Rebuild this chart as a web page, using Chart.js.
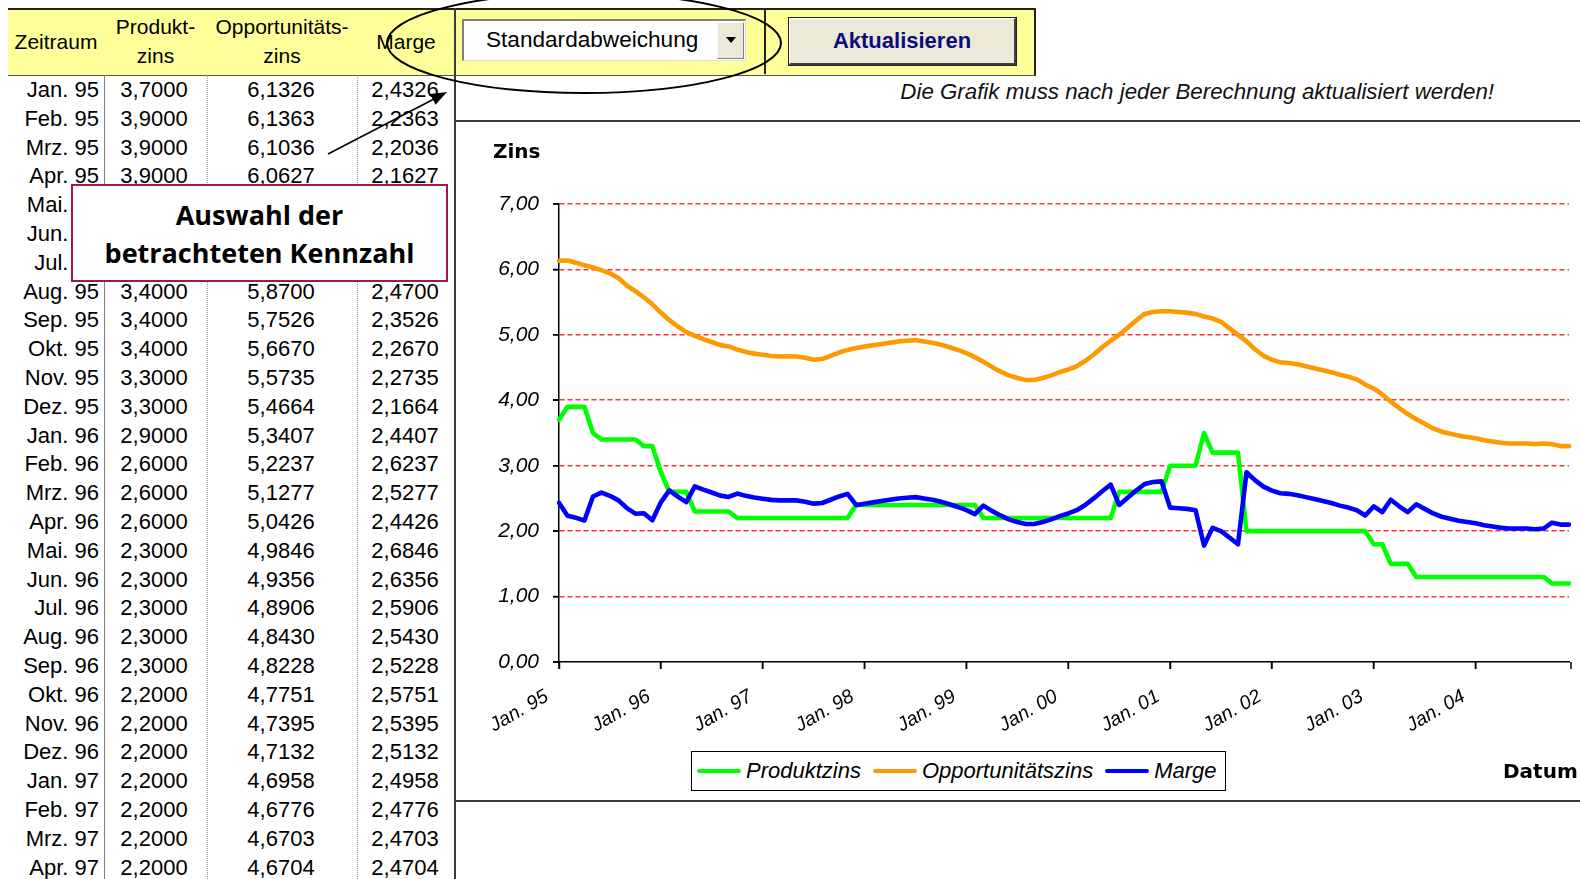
<!DOCTYPE html>
<html lang="de">
<head>
<meta charset="utf-8">
<title>Zinsentwicklung</title>
<script src="https://cdn.jsdelivr.net/npm/chart.js@4.4.1/dist/chart.umd.min.js"></script>
<style>
  body { margin: 0; width: 1580px; height: 879px; overflow: hidden; background: #fff;
         font-family: "Liberation Sans", Arial, sans-serif; color: #000; position: relative; }
  .abs { position: absolute; }
  #band { left: 8px; top: 8px; width: 1026px; height: 65px; background: #ffff99;
          border-top: 2px solid #222; border-right: 2px solid #222; border-bottom: 1px solid #555; }
  .hd { position: absolute; font-size: 21px; text-align: center; line-height: 29px; }
  .row { position: absolute; left: 0; width: 455px; height: 29px; line-height: 29px; font-size: 22px; }
  .row span { position: absolute; top: 0; }
  .vline { position: absolute; width: 0; }
  #combo { left: 462px; top: 19px; width: 284px; height: 42px; box-sizing: border-box; background: #fff;
           border-top: 2px solid #808080; border-left: 2px solid #808080; border-right: 1px solid #ddd; border-bottom: 1px solid #ddd; }
  #combo .txt { position: absolute; left: 22px; top: 0; line-height: 38px; font-size: 22.6px; }
  #combo .btn { position: absolute; right: 1px; top: 1px; width: 27px; height: 37px; box-sizing: border-box;
                background: #ece9d8; border-top: 1px solid #fff; border-left: 1px solid #fff;
                border-right: 1px solid #808080; border-bottom: 1px solid #808080; }
  #combo .btn::after { content: ""; position: absolute; left: 8px; top: 14px; border-left: 5px solid transparent;
                       border-right: 5px solid transparent; border-top: 6px solid #000; }
  #update { left: 789px; top: 18px; width: 227px; height: 47px; box-sizing: border-box; background: #ece9d8;
            border-top: 1px solid #fff; border-left: 1px solid #fff; border-right: 2px solid #404040; border-bottom: 2px solid #404040;
            outline: 1px solid #222; text-align: center; line-height: 44px; font-size: 22px; font-weight: bold; color: #0b0b80; }
  #note { right: 86px; top: 79px; font-size: 22.3px; font-style: italic; line-height: 26px; color: #111; }
  #frame { left: 454px; top: 120px; width: 1160px; height: 682px; box-sizing: border-box; border: 2px solid #3a3a3a; border-right: none; }
  #chartWrap { left: 456px; top: 122px; width: 1124px; height: 678px; }
  .axisTitle { position: absolute; font-family: "DejaVu Sans", sans-serif; font-weight: bold; font-size: 20px; line-height: 24px; }
  #legend { left: 691px; top: 751px; width: 535px; height: 40px; box-sizing: border-box; border: 1.5px solid #000;
            display: flex; align-items: center; padding-left: 5px; background: #fff; }
  #legend .item { display: flex; align-items: center; margin-right: 12px; }
  #legend .swatch { width: 44px; height: 4px; border-radius: 2px; margin-right: 5px; }
  #legend .lab { font-size: 22px; font-style: italic; }
  #callout { left: 71px; top: 184px; width: 377px; height: 98px; box-sizing: border-box; background: #fff;
             border: 2px solid #9e1a45; text-align: center; font-family: "Open Sans", sans-serif; font-weight: bold;
             font-size: 27px; line-height: 38px; padding-top: 10px; }
</style>
</head>
<body>

<div id="band" class="abs"></div>
<div class="hd" style="left:8px; top:27px; width:96px;">Zeitraum</div>
<div class="hd" style="left:104px; top:12px; width:103px;">Produkt-<br>zins</div>
<div class="hd" style="left:207px; top:12px; width:150px;">Opportunitäts-<br>zins</div>
<div class="hd" style="left:357px; top:27px; width:98px;">Marge</div>

<div id="rows"></div>

<div class="vline" style="left:104px; top:75px; height:804px; border-left:1px solid #808080;"></div>
<div class="vline" style="left:207px; top:75px; height:804px; border-left:1px dotted #9a9a9a;"></div>
<div class="vline" style="left:357px; top:75px; height:804px; border-left:1px dotted #9a9a9a;"></div>
<div class="vline" style="left:454px; top:8px; height:871px; border-left:2px solid #3a3a3a;"></div>
<div class="vline" style="left:764px; top:8px; height:66px; border-left:2px solid #222;"></div>

<div id="combo" class="abs"><span class="txt">Standardabweichung</span><span class="btn"></span></div>
<div id="update" class="abs">Aktualisieren</div>
<div id="note" class="abs">Die Grafik muss nach jeder Berechnung aktualisiert werden!</div>

<div id="frame" class="abs"></div>
<div id="chartWrap" class="abs"><canvas id="zinsChart" width="1124" height="678"></canvas></div>
<div class="axisTitle" style="left:493px; top:139px;">Zins</div>
<div class="axisTitle" style="left:1503px; top:759px;">Datum</div>
<div id="legend" class="abs"></div>

<div id="callout" class="abs">Auswahl der<br>betrachteten Kennzahl</div>

<svg class="abs" style="left:0; top:0; pointer-events:none;" width="1580" height="879">
  <ellipse cx="584" cy="43" rx="197" ry="50" fill="none" stroke="#000" stroke-width="2"/>
  <line x1="328" y1="154" x2="434" y2="99" stroke="#000" stroke-width="1.5"/>
  <polygon points="447,92 435.6,104.7 430,94.1" fill="#000"/>
</svg>

<script>
// Month / year axis
const monthNames = ['Jan.', 'Feb.', 'Mrz.', 'Apr.', 'Mai.', 'Jun.', 'Jul.', 'Aug.', 'Sep.', 'Okt.', 'Nov.', 'Dez.'];
const years = ['95', '96', '97', '98', '99', '00', '01', '02', '03', '04'];
const categories = years.flatMap(y => monthNames.map(m => m + ' ' + y));

// Produktzins (monthly, Jan. 95 - Dez. 04)
const produktzins = [
    3.70, 3.90, 3.90, 3.90, 3.50, 3.40, 3.40, 3.40, 3.40, 3.40, 3.30, 3.30,
    2.90, 2.60, 2.60, 2.60, 2.30, 2.30, 2.30, 2.30, 2.30, 2.20, 2.20, 2.20,
    2.20, 2.20, 2.20, 2.20, 2.20, 2.20, 2.20, 2.20, 2.20, 2.20, 2.20, 2.40,
    2.40, 2.40, 2.40, 2.40, 2.40, 2.40, 2.40, 2.40, 2.40, 2.40, 2.40, 2.40,
    2.40, 2.40, 2.20, 2.20, 2.20, 2.20, 2.20, 2.20, 2.20, 2.20, 2.20, 2.20,
    2.20, 2.20, 2.20, 2.20, 2.20, 2.20, 2.60, 2.60, 2.60, 2.60, 2.60, 2.60,
    3.00, 3.00, 3.00, 3.00, 3.50, 3.20, 3.20, 3.20, 3.20, 2.00, 2.00, 2.00,
    2.00, 2.00, 2.00, 2.00, 2.00, 2.00, 2.00, 2.00, 2.00, 2.00, 2.00, 2.00,
    1.80, 1.80, 1.50, 1.50, 1.50, 1.30, 1.30, 1.30, 1.30, 1.30, 1.30, 1.30,
    1.30, 1.30, 1.30, 1.30, 1.30, 1.30, 1.30, 1.30, 1.30, 1.20, 1.20, 1.20
];

// Opportunitätszins
const opportunitaetszins = [
    6.1326, 6.1363, 6.1036, 6.0627, 6.03, 5.99, 5.94, 5.8700, 5.7526, 5.6670, 5.5735, 5.4664,
    5.3407, 5.2237, 5.1277, 5.0426, 4.9846, 4.9356, 4.8906, 4.8430, 4.8228, 4.7751, 4.7395, 4.7132,
    4.6958, 4.6776, 4.6703, 4.6704, 4.67, 4.65, 4.62, 4.63, 4.68, 4.73, 4.77, 4.80,
    4.82, 4.84, 4.86, 4.88, 4.90, 4.91, 4.92, 4.90, 4.88, 4.85, 4.81, 4.77,
    4.72, 4.66, 4.59, 4.51, 4.44, 4.38, 4.34, 4.31, 4.31, 4.34, 4.38, 4.43,
    4.47, 4.52, 4.60, 4.70, 4.81, 4.91, 5.00, 5.11, 5.22, 5.32, 5.35, 5.36,
    5.36, 5.35, 5.34, 5.32, 5.28, 5.25, 5.20, 5.10, 5.00, 4.90, 4.78, 4.68,
    4.62, 4.58, 4.57, 4.55, 4.52, 4.49, 4.46, 4.43, 4.39, 4.36, 4.32, 4.24,
    4.18, 4.09, 3.98, 3.88, 3.79, 3.71, 3.64, 3.57, 3.52, 3.49, 3.46, 3.44,
    3.42, 3.39, 3.37, 3.35, 3.34, 3.34, 3.34, 3.33, 3.34, 3.33, 3.30, 3.30
];

// Marge
const marge = [
    2.4326, 2.2363, 2.2036, 2.1627, 2.53, 2.59, 2.54, 2.4700, 2.3526, 2.2670, 2.2735, 2.1664,
    2.4407, 2.6237, 2.5277, 2.4426, 2.6846, 2.6356, 2.5906, 2.5430, 2.5228, 2.5751, 2.5395, 2.5132,
    2.4958, 2.4776, 2.4703, 2.4704, 2.47, 2.45, 2.42, 2.43, 2.48, 2.53, 2.57, 2.40,
    2.42, 2.44, 2.46, 2.48, 2.50, 2.51, 2.52, 2.50, 2.48, 2.45, 2.41, 2.37,
    2.32, 2.26, 2.39, 2.31, 2.24, 2.18, 2.14, 2.11, 2.11, 2.14, 2.18, 2.23,
    2.27, 2.32, 2.40, 2.50, 2.61, 2.71, 2.40, 2.51, 2.62, 2.72, 2.75, 2.76,
    2.36, 2.35, 2.34, 2.32, 1.78, 2.05, 2.00, 1.90, 1.80, 2.90, 2.78, 2.68,
    2.62, 2.58, 2.57, 2.55, 2.52, 2.49, 2.46, 2.43, 2.39, 2.36, 2.32, 2.24,
    2.38, 2.29, 2.48, 2.38, 2.29, 2.41, 2.34, 2.27, 2.22, 2.19, 2.16, 2.14,
    2.12, 2.09, 2.07, 2.05, 2.04, 2.04, 2.04, 2.03, 2.04, 2.13, 2.10, 2.10
];

const visibleRows = 28;

function fmt(v) {
    return v.toFixed(4).replace('.', ',');
}

// Spreadsheet rows
const rowsEl = document.getElementById('rows');
for (let i = 0; i < visibleRows; i++) {
    const row = document.createElement('div');
    row.className = 'row';
    row.style.top = (75 + i * 28.8) + 'px';
    row.innerHTML =
        '<span style="left:0; width:99px; text-align:right;">' + categories[i] + '</span>' +
        '<span style="left:104px; width:100px; text-align:center;">' + fmt(produktzins[i]) + '</span>' +
        '<span style="left:207px; width:148px; text-align:center;">' + fmt(opportunitaetszins[i]) + '</span>' +
        '<span style="left:357px; width:96px; text-align:center;">' + fmt(marge[i]) + '</span>';
    rowsEl.appendChild(row);
}

// Excel style tick marks: yearly on the x axis, every unit on the y axis
const axisTicks = {
    id: 'axisTicks',
    afterDraw(chart) {
        const { ctx, scales: { x, y } } = chart;
        ctx.save();
        ctx.strokeStyle = '#000';
        ctx.lineWidth = 1.5;
        ctx.setLineDash([]);
        ctx.beginPath();
        categories.forEach((c, i) => {
            if (i % 12 === 0) {
                const px = x.getPixelForValue(i);
                ctx.moveTo(px, x.top);
                ctx.lineTo(px, x.top + 7);
            }
        });
        ctx.moveTo(x.right + 2, x.top);
        ctx.lineTo(x.right + 2, x.top + 7);
        y.ticks.forEach(t => {
            const py = y.getPixelForValue(t.value);
            ctx.moveTo(y.right - 6, py);
            ctx.lineTo(y.right, py);
        });
        ctx.stroke();
        ctx.restore();
    }
};

const tickFont = { family: '"Liberation Sans", Arial, sans-serif', style: 'italic', size: 21 };

const chart = new Chart(document.getElementById('zinsChart').getContext('2d'), {
    type: 'line',
    data: {
        labels: categories,
        datasets: [
            { label: 'Produktzins', data: produktzins, borderColor: '#00ff00', backgroundColor: '#00ff00', order: 2 },
            { label: 'Opportunitätszins', data: opportunitaetszins, borderColor: '#ff9900', backgroundColor: '#ff9900', order: 1 },
            { label: 'Marge', data: marge, borderColor: '#0000ff', backgroundColor: '#0000ff', order: 0 }
        ]
    },
    options: {
        responsive: false,
        animation: false,
        layout: { padding: { top: 82, right: 11, left: 0, bottom: 0 } },
        elements: {
            point: { radius: 0 },
            line: { borderWidth: 4.6, tension: 0, borderJoinStyle: 'round', borderCapStyle: 'round' }
        },
        plugins: { legend: { display: false }, tooltip: { enabled: false } },
        scales: {
            x: {
                offset: false,
                grid: {
                    drawOnChartArea: false,
                    tickLength: 7,
                    tickWidth: 1.5,
                    tickColor: '#000'
                },
                border: { color: '#000', width: 1.5 },
                ticks: {
                    autoSkip: false,
                    maxRotation: 30,
                    minRotation: 30,
                    padding: 16,
                    labelOffset: -12,
                    color: '#000',
                    font: { family: '"Liberation Sans", Arial, sans-serif', style: 'italic', size: 19.5 },
                    callback: function (value, index) {
                        return index % 12 === 0 ? this.getLabelForValue(value) : null;
                    }
                },
                afterFit: scale => { scale.height = 138; }
            },
            y: {
                min: 0,
                max: 7,
                grid: {
                    color: c => (c.tick && c.tick.value === 0 ? 'rgba(0,0,0,0)' : '#ff3535'),
                    lineWidth: 1.6,
                    tickLength: 6,
                    tickColor: '#000',
                    tickWidth: 1.5
                },
                border: { color: '#000', width: 1.5, dash: [5, 3] },
                ticks: {
                    stepSize: 1,
                    padding: 14,
                    color: '#000',
                    font: tickFont,
                    callback: v => v.toFixed(2).replace('.', ',')
                },
                afterFit: scale => { scale.width = 103; }
            }
        }
    },
    plugins: [axisTicks]
});

// Legend built from the chart's datasets
const legendEl = document.getElementById('legend');
chart.data.datasets.forEach(ds => {
    const item = document.createElement('div');
    item.className = 'item';
    item.innerHTML = '<span class="swatch" style="background:' + ds.borderColor + '"></span><span class="lab">' + ds.label + '</span>';
    legendEl.appendChild(item);
});
</script>
</body>
</html>
